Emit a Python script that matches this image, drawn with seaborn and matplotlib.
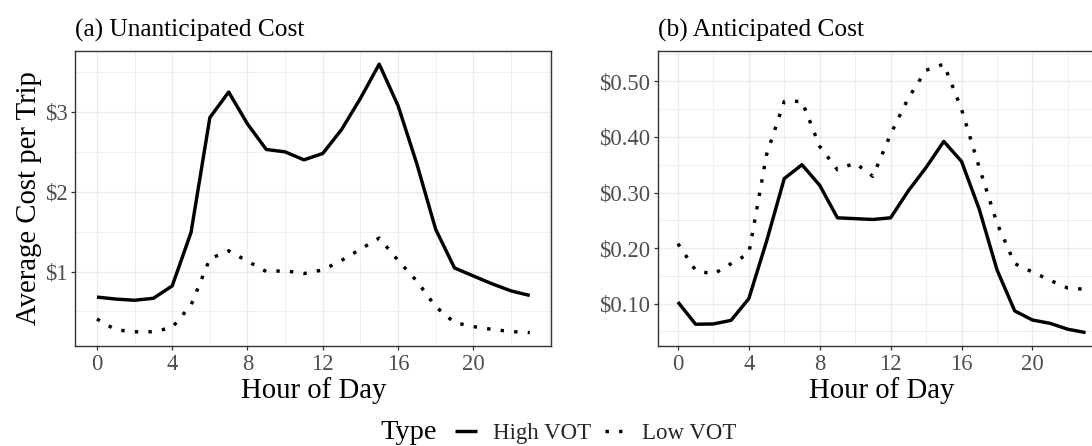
import matplotlib
matplotlib.use("Agg")
import matplotlib.pyplot as plt
from matplotlib.lines import Line2D
from matplotlib.ticker import FixedLocator, FixedFormatter, MultipleLocator
import pandas as pd
import seaborn as sns

# ---- data -------------------------------------------------------------
hours = list(range(24))

unanticipated_high = [0.68, 0.655, 0.64, 0.665, 0.82, 1.49, 2.93, 3.25, 2.85, 2.53,
                      2.50, 2.40, 2.48, 2.78, 3.17, 3.60, 3.08, 2.35, 1.53, 1.045,
                      0.945, 0.846, 0.758, 0.70]
unanticipated_low = [0.405, 0.27, 0.245, 0.245, 0.30, 0.58, 1.16, 1.26, 1.13, 1.00,
                     1.01, 0.975, 1.02, 1.14, 1.28, 1.42, 1.14, 0.88, 0.56, 0.36,
                     0.31, 0.275, 0.248, 0.235]

anticipated_high = [0.103, 0.063, 0.0635, 0.070, 0.109, 0.212, 0.325, 0.350, 0.313, 0.2545,
                    0.253, 0.2515, 0.2545, 0.303, 0.345, 0.392, 0.356, 0.270, 0.161, 0.087,
                    0.0706, 0.0646, 0.054, 0.048]
anticipated_low = [0.208, 0.160, 0.153, 0.172, 0.190, 0.368, 0.464, 0.464, 0.383, 0.341,
                   0.353, 0.329, 0.405, 0.470, 0.520, 0.531, 0.450, 0.345, 0.245, 0.172,
                   0.157, 0.142, 0.128, 0.126]

type_labels = ["High VOT", "Low VOT"]
panel_titles = ["(a) Unanticipated Cost", "(b) Anticipated Cost"]
x_ticks = [0, 4, 8, 12, 16, 20]
left_y_ticks = [1, 2, 3]
left_y_labels = ["$1", "$2", "$3"]
right_y_ticks = [0.1, 0.2, 0.3, 0.4, 0.5]
right_y_labels = ["$0.10", "$0.20", "$0.30", "$0.40", "$0.50"]

# ---- styling ----------------------------------------------------------
sns.set_theme(style="white")
plt.rcParams["font.family"] = ["Liberation Serif", "DejaVu Serif"]
plt.rcParams["lines.solid_capstyle"] = "butt"
plt.rcParams["lines.dash_capstyle"] = "butt"

GRID = "#EBEBEB"
DARK = "#333333"
TICKTXT = "#4D4D4D"
LW = 2.45
LINE_DASHES = {type_labels[0]: "", type_labels[1]: (1, 3)}


def long_frame(high, low):
    return pd.DataFrame({
        "Hour": hours + hours,
        "Cost": high + low,
        "Type": [type_labels[0]] * len(hours) + [type_labels[1]] * len(hours),
    })


def expanded(values, mult=0.05):
    lo, hi = min(values), max(values)
    pad = (hi - lo) * mult
    return lo - pad, hi + pad


W, H = 1092, 446
fig = plt.figure(figsize=(W / 100, H / 100), dpi=100)
fig.patch.set_facecolor("white")

top_px, bot_px = 50.7, 346.0
ax1 = fig.add_axes([75.3 / W, 1 - bot_px / H, (551.4 - 75.3) / W, (bot_px - top_px) / H])
ax2 = fig.add_axes([657.5 / W, 1 - bot_px / H, (1106.0 - 657.5) / W, (bot_px - top_px) / H])

panels = [
    (ax1, unanticipated_high, unanticipated_low, left_y_ticks, left_y_labels, 0.5),
    (ax2, anticipated_high, anticipated_low, right_y_ticks, right_y_labels, 0.05),
]

for i, (ax, high, low, yt, ylab, ystep) in enumerate(panels):
    df = long_frame(high, low)
    sns.lineplot(data=df, x="Hour", y="Cost", style="Type", dashes=LINE_DASHES,
                 color="black", linewidth=LW, errorbar=None, legend=False, ax=ax)

    ax.set_facecolor("white")
    ax.set_xlim(*expanded(hours))
    ax.set_ylim(*expanded(high + low))

    ax.xaxis.set_major_locator(FixedLocator(x_ticks))
    ax.xaxis.set_minor_locator(MultipleLocator(2))
    ax.yaxis.set_major_locator(FixedLocator(yt))
    ax.yaxis.set_major_formatter(FixedFormatter(ylab))
    ax.yaxis.set_minor_locator(MultipleLocator(ystep))

    ax.set_axisbelow(True)
    ax.grid(which="major", color=GRID, linewidth=1.0)
    ax.grid(which="minor", color=GRID, linewidth=0.55)

    for sp in ax.spines.values():
        sp.set_visible(True)
        sp.set_color(DARK)
        sp.set_linewidth(1.0)

    ax.tick_params(which="major", length=3.0, width=0.9, color=DARK,
                   labelcolor=TICKTXT, labelsize=16.3, pad=2.5,
                   bottom=True, left=True)
    ax.tick_params(which="minor", length=0, bottom=False, left=False)

    ax.set_title(panel_titles[i], loc="left", fontsize=18.3, pad=10, color="black")
    ax.set_xlabel("Hour of Day", fontsize=20.7, labelpad=1.5, color="black")
    ax.set_ylabel("")

ax1.set_ylabel("Average Cost per Trip", fontsize=20.7, color="black")
ax1.yaxis.set_label_coords(-0.07, 0.5)

# ---- legend -----------------------------------------------------------
fig.text(380.7 / W, 1 - 439.3 / H, "Type", fontsize=20.5, ha="left", va="baseline",
         color="black")
handles = [Line2D([], [], color="black", linewidth=LW, linestyle="-"),
           Line2D([], [], color="black", linewidth=LW, dashes=(1, 3))]
fig.legend(handles, type_labels, loc="center left",
           bbox_to_anchor=(455 / W, 1 - 433.5 / H), ncol=2, frameon=False,
           fontsize=16.5, handlelength=0.95, handletextpad=0.7,
           columnspacing=0.6, borderpad=0, borderaxespad=0)

fig.savefig("out.png", dpi=100, facecolor="white")
